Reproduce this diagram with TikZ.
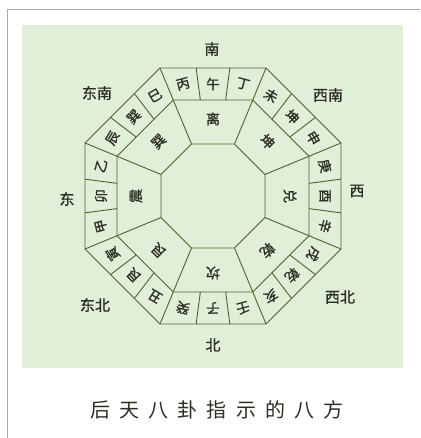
\documentclass[tikz,border=0pt]{standalone}
\usepackage{fontspec}
\setmainfont{Noto Sans CJK SC}
\newfontfamily\heifont[FakeBold=1.1]{Noto Sans CJK SC}
\newfontfamily\capfont[LetterSpace=45]{Noto Sans CJK SC}
\usepackage{xcolor}
\definecolor{panel}{HTML}{E1EFD9}
\definecolor{rim}{HTML}{565F2C}
\definecolor{ink}{HTML}{2B2E22}
\definecolor{framegray}{HTML}{AAAAAA}

\begin{document}
\begin{tikzpicture}[
			     x=1pt, y=1pt,
			     ringline/.style={draw=rim, line width=0.9pt, line join=round},
			     zhi/.style={text=ink, inner sep=0pt, font=\heifont\fontsize{13.5}{13.5}\selectfont},
			     gua/.style={text=ink, inner sep=0pt, font=\heifont\fontsize{14}{14}\selectfont},
			     fang/.style={text=ink, inner sep=0pt, font=\heifont\fontsize{15}{15}\selectfont}
			     ]
\useasboundingbox (-213,-242) rectangle (207,196);
% page frame and green panel
\draw[framegray, line width=1pt] (-205,-242) -- (-205,186) -- (207,186);
\fill[panel] (-191,-172) rectangle (190,171);
% three octagons
\foreach \r in {138.5,103.9,56.3}
  \draw[ringline] (22.5:\r) \foreach \k in {1,...,7} { -- ({22.5+45*\k}:\r) } -- cycle;
% spokes
\foreach \k in {0,...,7}
  \draw[ringline] ({22.5+45*\k}:56.3) -- ({22.5+45*\k}:138.5);
\foreach \k in {0,...,7}
  \foreach \s in {-7.5,7.5}
    \draw[ringline] ({45*\k+\s}:96.83) -- ({45*\k+\s}:129.1);
% twenty-four mountains
\foreach \a/\t [count=\i] in {90/午,105/丙,120/巳,135/巽,150/辰,165/乙,180/卯,195/甲,
                              210/寅,225/艮,240/丑,255/癸,270/子,285/壬,300/亥,315/乾,
                              330/戌,345/辛,0/酉,15/庚,30/申,45/坤,60/未,75/丁}
{
  \pgfmathsetmacro\rr{112/cos(\a-45*round(\a/45))}
  \node[zhi, rotate=\a-90] (zhi-\i) at (\a:\rr) {\t};
}
% eight trigrams
\foreach \a/\t [count=\i] in {90/离,45/坤,0/兑,315/乾,270/坎,225/艮,180/震,135/巽}
  \node[gua, rotate=\a-90] (gua-\i) at (\a:77) {\t};
% eight directions
\node[fang] (nan)    at (-1,147)    {南};
\node[fang] (xinan)  at (115,101)   {西南};
\node[fang] (xi)     at (144,5)     {西};
\node[fang] (xibei)  at (127,-101)  {西北};
\node[fang] (bei)    at (0,-149)    {北};
\node[fang] (dongbei) at (-118,-109) {东北};
\node[fang] (dong)   at (-146,-3)   {东};
\node[fang] (dongnan) at (-116,103) {东南};
% caption
\node[text=ink, font=\capfont\fontsize{20}{20}\selectfont] (caption) at (4,-214) {后天八卦指示的八方};
\end{tikzpicture}
\end{document}
